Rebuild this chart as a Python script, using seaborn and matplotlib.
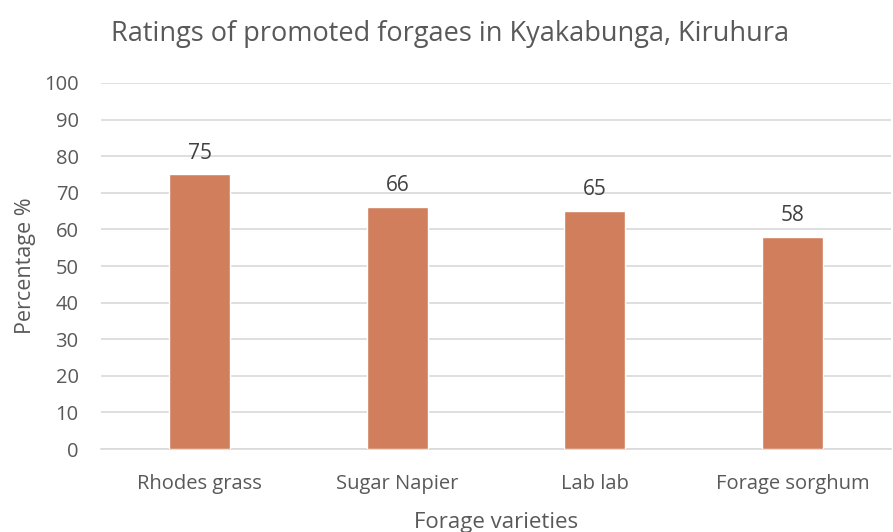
import matplotlib
matplotlib.use("Agg")
import matplotlib.pyplot as plt
import pandas as pd
import seaborn as sns

# Data
varieties = ["Rhodes grass", "Sugar Napier", "Lab lab", "Forage sorghum"]
percentages = [75, 66, 65, 58]
yticks = list(range(0, 101, 10))

df = pd.DataFrame({"variety": varieties, "pct": percentages})

sns.set_theme(style="white")
plt.rcParams["font.family"] = ["Open Sans", "DejaVu Sans"]

text_col = "#595959"
fig = plt.figure(figsize=(8.93, 5.32), dpi=100)
ax = fig.add_axes([0.113, 0.156, 0.885, 0.688])

sns.barplot(data=df, x="variety", y="pct", color="#D07E5B", saturation=1,
            width=0.31, ax=ax, zorder=3)

ax.set_ylim(0, 100)
ax.set_yticks(yticks)
ax.yaxis.grid(True, color="#D9D9D9", linewidth=1.2, zorder=0)
ax.set_axisbelow(True)
for s in ["top", "right", "left"]:
    ax.spines[s].set_visible(False)
ax.spines["bottom"].set_color("#D9D9D9")
ax.spines["bottom"].set_linewidth(1.2)
ax.tick_params(axis="both", colors=text_col, labelsize=14.5, length=0)
ax.tick_params(axis="x", pad=18)
ax.tick_params(axis="y", pad=16)

for p, v in zip(ax.patches, percentages):
    ax.text(p.get_x() + p.get_width() / 2, v + 3, str(v), ha="center",
            va="bottom", fontsize=15, color="#404040")

ax.set_xlabel("Forage varieties", fontsize=16, color=text_col, labelpad=13)
ax.set_ylabel("Percentage %", fontsize=15.5, color=text_col, labelpad=6)
fig.text(0.504, 0.937, "Ratings of promoted forgaes in Kyakabunga, Kiruhura",
         fontsize=19.5, color=text_col, ha="center", va="center")

fig.savefig("out.png", dpi=100)
